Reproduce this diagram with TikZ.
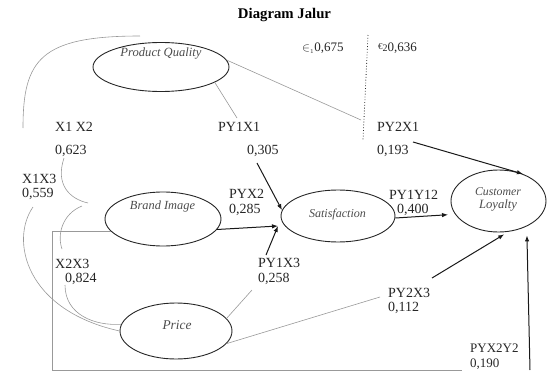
\documentclass[tikz,border=0pt]{standalone}
\usepackage{fontspec}
\setmainfont{Liberation Serif}
\usetikzlibrary{shapes.geometric,arrows.meta}
\newcommand{\fitw}[2]{\resizebox{#1pt}{!}{#2}}
\begin{document}
\begin{tikzpicture}[x=1pt,y=-1pt,
  ell/.style={draw=black!85,line width=0.9pt,ellipse,inner sep=0pt},
  etext/.style={inner sep=0pt,font=\fontsize{12}{13}\selectfont\itshape,text=black!70,align=center},
  lbl/.style={anchor=base west,inner sep=0pt,font=\fontsize{14}{15}\selectfont,text=black!85},
  gline/.style={draw=black!40,line width=0.6pt},
  arr/.style={draw=black!90,line width=1pt,-{Latex[length=6pt,width=4.5pt]}}]
\useasboundingbox (0,0) rectangle (547,372);

% title
\node[inner sep=0pt,font=\fontsize{13.5}{15}\selectfont\bfseries] (title) at (284.5,15) {\fitw{93}{Diagram Jalur}};

% ellipses
\node[ell,minimum width=136,minimum height=49] (pq) at (161,67) {};
\node[ell,minimum width=116,minimum height=54] (bi) at (163,219) {};
\node[ell,minimum width=112,minimum height=56] (pr) at (176,331) {};
\node[ell,minimum width=114,minimum height=52] (sat) at (338,216) {};
\node[ell,minimum width=95,minimum height=62] (cl) at (498.5,201) {};

\node[etext] (pqt) at (161,53) {\fitw{81}{Product Quality}};
\node[etext] (bit) at (162.5,207) {\fitw{65}{Brand Image}};
\node[etext] (prt) at (177,325) {\fitw{29}{Price}};
\node[etext] (satt) at (337.5,215) {\fitw{57}{Satisfaction}};
\node[etext] (clt1) at (498,192) {\fitw{46}{Customer}};
\node[etext] (clt2) at (498,205) {\fitw{38}{Loyalty}};

% labels
\node[lbl] (l12) at (55,131) {X1 X2};
\node[lbl] (v12) at (55,154) {0,623};
\node[lbl] (l13) at (22,183) {X1X3};
\node[lbl] (v13) at (22,197) {0,559};
\node[lbl] (l23) at (55,268) {X2X3};
\node[lbl] (v23) at (65,282) {0,824};
\node[lbl] (lpy1x1) at (218,131) {PY1X1};
\node[lbl] (vpy1x1) at (247,154) {0,305};
\node[lbl] (lpyx2) at (229,198) {PYX2};
\node[lbl] (vpyx2) at (229,213) {0,285};
\node[lbl] (lpy1x3) at (258,267) {PY1X3};
\node[lbl] (vpy1x3) at (258,282) {0,258};
\node[lbl] (lpy1y12) at (389,199) {PY1Y12};
\node[lbl] (vpy1y12) at (397,213) {0,400};
\node[lbl] (lpy2x1) at (377,131) {PY2X1};
\node[lbl] (vpy2x1) at (377,154) {0,193};
\node[lbl] (lpy2x3) at (388,297) {PY2X3};
\node[lbl] (vpy2x3) at (388,311) {0,112};
\node[lbl,font=\fontsize{13}{14}\selectfont] (lpyx2y2) at (470,352) {PYX2Y2};
\node[lbl,font=\fontsize{13}{14}\selectfont] (vpyx2y2) at (470,367) {0,190};
\node[lbl,font=\fontsize{13}{14}\selectfont] (e1) at (302,52) {$\in_{\scriptscriptstyle 1}$0,675};
\node[lbl,font=\fontsize{13}{14}\selectfont] (e2) at (378,52) {\raisebox{2pt}{\fontsize{9}{10}\selectfont €}{\fontsize{10}{10}\selectfont 2}0,636};

% coordinates
\coordinate (g1e) at (361,120);
\coordinate (g2e) at (237,118);
\coordinate (g3e) at (252,290);
\coordinate (g4e) at (380,297);
\coordinate (rb) at (52,370);
\coordinate (re) at (462,370);
\coordinate (d1) at (368,35);
\coordinate (d2) at (363,140);
\coordinate (hub) at (278,226);
\coordinate (a1s) at (257,163);
\coordinate (a3s) at (266,255);
\coordinate (a5s) at (413,142);
\coordinate (a6s) at (432,278);
\coordinate (a7s) at (530,370);
\coordinate (c1s) at (140,36);
\coordinate (c1e) at (23,128);
\coordinate (c2s) at (64,158);
\coordinate (c2e) at (88,203);
\coordinate (c3s) at (82,206);
\coordinate (c3e) at (62,249);
\coordinate (c4s) at (33,207);
\coordinate (c5s) at (65,285);

% grey lines
\draw[gline] (pq.6) -- (g1e);
\draw[gline] (pq.-16) -- (g2e);
\draw[gline] (pr.14) -- (g3e);
\draw[gline] (pr.-14) -- (g4e);
\draw[gline] (bi.193) -| (rb) -- (re);

% grey correlation curves
\draw[gline] (c1s) .. controls (40,36) and (23,60) .. (c1e);
\draw[gline] (c2s) .. controls (55,185) and (70,199) .. (c2e);
\draw[gline] (c3s) .. controls (62,214) and (57,235) .. (c3e);
\draw[gline] (c4s) .. controls (10,240) and (25,310) .. (pr.west);
\draw[gline] (c5s) .. controls (65,315) and (95,326) .. (pr.173);

% dotted line
\draw[black!85,line width=0.8pt,dotted] (d1) -- (d2);

% black arrows
\draw[arr] (a1s) -- (sat.174);
\draw[arr] (bi.-11) -- (hub);
\draw[arr] (a3s) -- (hub);
\draw[arr,shorten >=7pt] (sat.-2) -- (cl.197);
\draw[arr] (a5s) -- (cl.48);
\draw[arr,shorten >=5pt] (a6s) -- (cl.-72);
\draw[arr,shorten >=9pt] (a7s) -- (cl.-42);
\end{tikzpicture}
\end{document}
